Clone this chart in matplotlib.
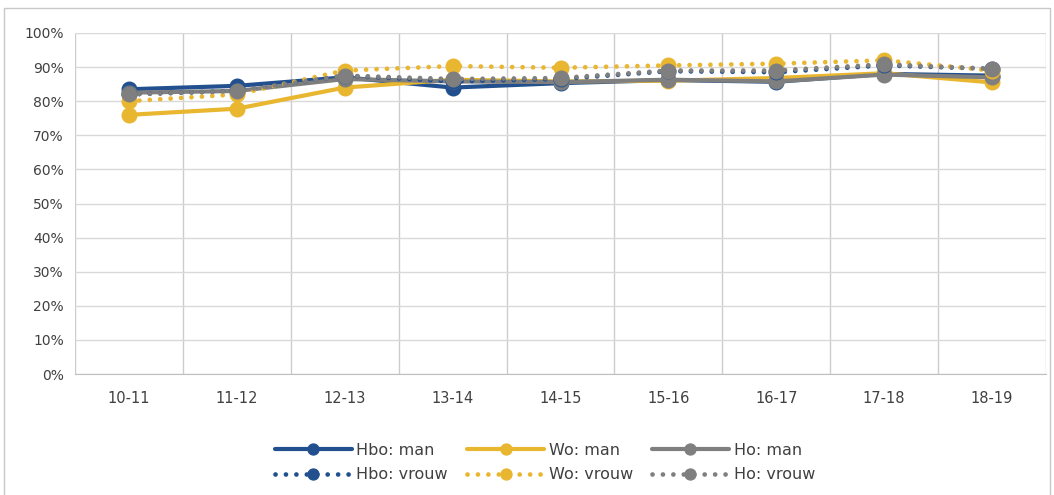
import numpy as np
import matplotlib.pyplot as plt
from matplotlib.patches import Rectangle

years = ['10-11', '11-12', '12-13', '13-14', '14-15', '15-16', '16-17', '17-18', '18-19']

hbo_man = [83.5, 84.5, 87.0, 84.0, 85.3, 86.2, 85.7, 88.0, 87.5]
wo_man = [76.0, 77.8, 84.0, 86.3, 85.8, 86.0, 86.8, 88.2, 85.5]
ho_man = [82.5, 83.0, 86.5, 85.8, 85.6, 86.3, 85.8, 87.8, 87.0]
hbo_vrouw = [82.0, 83.0, 87.5, 85.8, 86.5, 88.8, 88.5, 90.5, 89.5]
wo_vrouw = [80.0, 82.0, 89.0, 90.3, 89.8, 90.5, 91.0, 92.0, 89.0]
ho_vrouw = [82.0, 83.0, 87.5, 86.5, 86.8, 89.0, 89.0, 90.8, 89.5]

BLUE = '#22508F'
YELLOW = '#E9B630'
GRAY = '#7F7F7F'

fig = plt.figure(figsize=(10.54, 4.95), dpi=100)
W, H = 1054, 495
ax = fig.add_axes([75 / W, 1 - 374 / H, (1046 - 75) / W, (374 - 33) / H])

# outer chart border (cut off at the bottom)
fig.patches.append(Rectangle((4 / W, -0.05), (1050 - 4) / W, 1 - 8 / H + 0.05,
                             transform=fig.transFigure, fill=False,
                             edgecolor='#C8C8C8', lw=1.0))

x = np.arange(len(years))
solid = dict(lw=3.0, marker='o', ms=10.5, solid_capstyle='round')
dotted = dict(lw=3.4, marker='o', ms=10.5, linestyle=(0, (0.01, 2.2)),
              dash_capstyle='round')

series = [
    (hbo_man, BLUE, solid, 'Hbo: man'),
    (wo_man, YELLOW, solid, 'Wo: man'),
    (ho_man, GRAY, solid, 'Ho: man'),
    (hbo_vrouw, BLUE, dotted, 'Hbo: vrouw'),
    (wo_vrouw, YELLOW, dotted, 'Wo: vrouw'),
    (ho_vrouw, GRAY, dotted, 'Ho: vrouw'),
]
lines = {}
for vals, col, style, name in series:
    ln, = ax.plot(x, np.array(vals) / 100, color=col, label=name, **style)
    lines[name] = ln

ax.set_xlim(-0.5, len(years) - 0.5)
ax.set_ylim(0, 1)
ax.set_yticks(np.arange(0, 1.01, 0.1))
ax.set_yticklabels(['{:d}%'.format(int(round(v * 100))) for v in np.arange(0, 1.01, 0.1)])
ax.set_xticks(x)
ax.set_xticklabels(years)
ax.set_xticks(np.arange(-0.5, len(years), 1), minor=True)

ax.grid(axis='y', which='major', color='#D9D9D9', lw=1.0)
ax.grid(axis='x', which='minor', color='#CCCCCC', lw=1.0)
ax.set_axisbelow(True)
for s in ['top', 'right', 'left']:
    ax.spines[s].set_visible(False)
ax.spines['bottom'].set_color('#BFBFBF')
ax.tick_params(axis='both', which='both', length=0, labelsize=10, colors='#404040', pad=8)
ax.tick_params(axis='x', pad=12, labelsize=10.5)

order = ['Hbo: man', 'Hbo: vrouw', 'Wo: man', 'Wo: vrouw', 'Ho: man', 'Ho: vrouw']
leg = fig.legend([lines[k] for k in order], order, ncol=3, loc='center',
                 bbox_to_anchor=(545 / W, 1 - 462.5 / H), frameon=False,
                 fontsize=11.5, handlelength=4.8, handletextpad=0.3,
                 columnspacing=1.2, labelspacing=0.6, markerscale=0.75)
for t in leg.get_texts():
    t.set_color('#404040')

fig.savefig('out.png', dpi=100)
